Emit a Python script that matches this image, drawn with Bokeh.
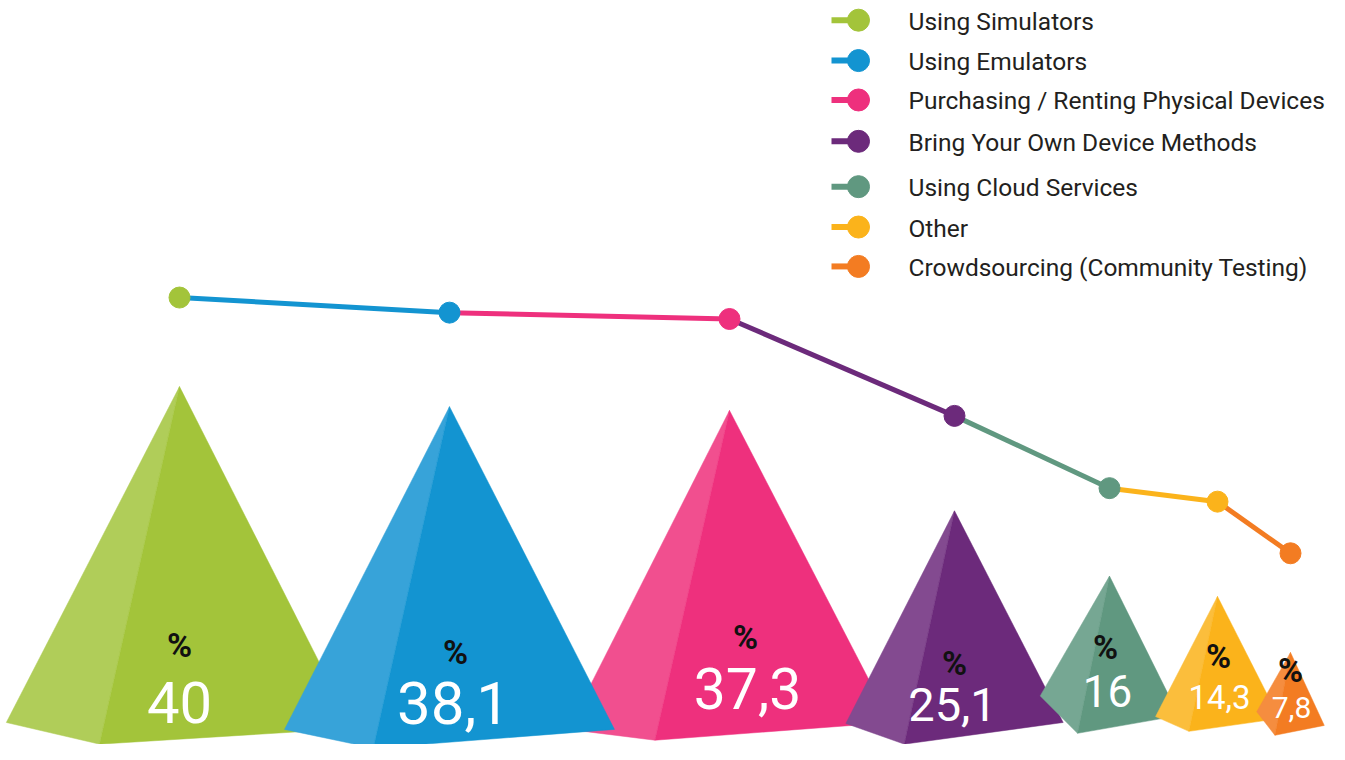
from bokeh.plotting import figure
from bokeh.models import Range1d, ColumnDataSource
from bokeh.embed import file_html
from bokeh.resources import INLINE
from bokeh.core.properties import value

# ---------------- data ----------------
categories = ["Using Simulators", "Using Emulators", "Purchasing / Renting Physical Devices",
              "Bring Your Own Device Methods", "Using Cloud Services", "Other",
              "Crowdsourcing (Community Testing)"]
values = [40, 38.1, 37.3, 25.1, 16, 14.3, 7.8]
value_labels = ["40", "38,1", "37,3", "25,1", "16", "14,3", "7,8"]

# ---------------- style ----------------
colors = ["#A3C43A", "#1394D1", "#EE307D", "#6C2A7B", "#609880", "#FBB31B", "#F37C22"]
light_colors = ["#B0CD59", "#37A3D9", "#F14F8F", "#834A90", "#76A793", "#FBBE3C", "#F58D3F"]
FONT = "Roboto"

# ---------------- layout ----------------
W, H = 1329, 744
S, A = 0.985, -1.0                   # reference row -> plot row: r*S + A


def page_to_ref(pg):
    return (pg - A) / S


PXU = 8.6                            # reference px per percentage point (pyramid height)
BASE_REF = 738                       # reference row of value 0 for pyramids
centers = [179, 449, 729, 954, 1109, 1217, 1290]     # slot centres (px)
side_base = [737, 741, 738, 735, 723, 729, 730]       # perspective base row per slot
tilt = [(-3, 3), (0, 0), (3, -4), (0, -1), (-16, 4), (-1, 1), (-7, 7)]
drop = [19, 19, 14, 21, 22, 14, 17]
HALF_W = 4.33                        # px per point, half base width
FRONT_X = -2.0                       # px per point, front corner shift
z_order = [0, 2, 1, 3, 4, 5, 6]
num_dx = [0, 4, 18, -2, -2, 2, 1]
num_lift = [6, 9, 21, 5, 8, 11, 2]
num_size = [58, 60, 57, 47, 44, 33, 30]
pct_dx = [0, 6, 16, 0, -4, 1, 0]
pct_lift = [76, 70, 70, 56, 58, 51, 47]
legend_rows = [21, 62, 102, 144, 190, 231, 271]
LEG_LINE_X0, LEG_DOT_X, LEG_TEXT_X = 831, 858, 908
LINE_B, LINE_M = 625.1, 8.063        # trend line: reference row = LINE_B - LINE_M * value

# ranges
base_page = BASE_REF * S + A
unit_px = PXU * S
y_start = -(H - base_page) / unit_px
y_end = base_page / unit_px
ref_bot, ref_top = page_to_ref(H), page_to_ref(0)
line_bot = (LINE_B - ref_bot) / LINE_M
line_top = (LINE_B - ref_top) / LINE_M

p = figure(width=W, height=H, output_backend="svg", toolbar_location=None,
           x_range=Range1d(0, W), y_range=Range1d(y_start, y_end),
           x_axis_location=None, y_axis_location=None, min_border=0,
           background_fill_color="white", border_fill_color="white")
p.outline_line_color = None
p.grid.visible = False
p.extra_y_ranges = {"line": Range1d(line_bot, line_top),
                    "ref": Range1d(ref_bot, ref_top)}

# ---------------- pyramids ----------------
xs, ys, fc = [], [], []
for i in z_order:
    v = values[i]
    cx = centers[i]
    hw = HALF_W * v
    b = (BASE_REF - side_base[i]) / PXU
    apex = (cx, b + v)
    left = (cx - hw, b - tilt[i][0] / PXU)
    right = (cx + hw, b - tilt[i][1] / PXU)
    front = (cx + FRONT_X * v, b - drop[i] / PXU)
    xs.append([apex[0], left[0], front[0]]); ys.append([apex[1], left[1], front[1]]); fc.append(light_colors[i])
    xs.append([apex[0], front[0], right[0]]); ys.append([apex[1], front[1], right[1]]); fc.append(colors[i])
p.patches(xs="xs", ys="ys", fill_color="c", line_color="c", line_width=0.5,
          source=ColumnDataSource(dict(xs=xs, ys=ys, c=fc)))

# ---------------- value labels ----------------
for i in range(len(values)):
    baseline = side_base[i] - num_lift[i]
    p.text(x=[centers[i] + num_dx[i]], y=[baseline - 0.30 * num_size[i]], text=[value_labels[i]],
           y_range_name="ref", text_font=value(FONT), text_font_size=f"{num_size[i]}px",
           text_color="white", text_align="center", text_baseline="middle")
pct_src = ColumnDataSource(dict(
    x=[c + d for c, d in zip(centers, pct_dx)],
    y=[sb - l - pl for sb, l, pl in zip(side_base, num_lift, pct_lift)],
    t=["%"] * len(values)))
p.text(x="x", y="y", text="t", source=pct_src, y_range_name="ref",
       text_font=value(FONT), text_font_size="34px", text_font_style="bold", text_color="#111111",
       text_align="center", text_baseline="middle")

# ---------------- trend line ----------------
seg_src = ColumnDataSource(dict(x0=centers[:-1], y0=values[:-1], x1=centers[1:], y1=values[1:],
                                c=colors[1:]))
p.segment(x0="x0", y0="y0", x1="x1", y1="y1", line_color="c", line_width=5,
          source=seg_src, y_range_name="line")
p.scatter(x=centers, y=values, size=21, fill_color=colors, line_color=colors,
          y_range_name="line")

# ---------------- legend ----------------
n = len(categories)
p.segment(x0=[LEG_LINE_X0] * n, y0=legend_rows, x1=[LEG_DOT_X] * n, y1=legend_rows,
          line_color=colors, line_width=6, y_range_name="ref")
p.scatter(x=[LEG_DOT_X] * n, y=legend_rows, size=22, fill_color=colors, line_color=colors,
          y_range_name="ref")
p.text(x=[LEG_TEXT_X] * n, y=[r + 1 for r in legend_rows], text=categories,
       text_font=value(FONT), text_font_size="24.5px", text_color="#231F20",
       text_align="left", text_baseline="middle", y_range_name="ref")

open("out.html", "w").write(file_html(p, INLINE))
